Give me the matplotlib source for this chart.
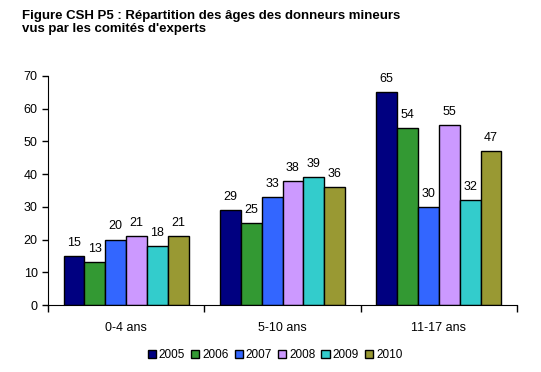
import matplotlib
matplotlib.use("Agg")
import matplotlib.pyplot as plt
import numpy as np

plt.rcParams["font.family"] = ["Liberation Sans", "DejaVu Sans"]

categories = ["0-4 ans", "5-10 ans", "11-17 ans"]
years = ["2005", "2006", "2007", "2008", "2009", "2010"]
values = {
    "2005": [15, 29, 65],
    "2006": [13, 25, 54],
    "2007": [20, 33, 30],
    "2008": [21, 38, 55],
    "2009": [18, 39, 32],
    "2010": [21, 36, 47],
}
colors = ["#000080", "#339933", "#3366FF", "#CC99FF", "#33CCCC", "#999933"]

fig = plt.figure(figsize=(5.41, 3.72), dpi=100)
ax = fig.add_axes([48 / 541, 67 / 372, 469 / 541, 229 / 372])

x = np.arange(len(categories))
w = 0.8 / len(years)
for i, (yr, col) in enumerate(zip(years, colors)):
    pos = x - 0.4 + w * (i + 0.5)
    bars = ax.bar(pos, values[yr], width=w, color=col, edgecolor="black",
                  linewidth=1.0, label=yr)
    for b, v in zip(bars, values[yr]):
        ax.text(b.get_x() + b.get_width() / 2, v + 4, str(v),
                ha="center", va="center", fontsize=9)

ax.set_xlim(-0.5, 2.5)
ax.set_ylim(0, 70)
ax.set_yticks(range(0, 71, 10))
ax.set_xticks([-0.5, 0.5, 1.5, 2.5])
ax.set_xticklabels([])
ax.set_xticks(x, minor=True)
ax.set_xticklabels(categories, minor=True)
ax.tick_params(axis="x", which="minor", length=0, pad=12, labelsize=9)
ax.tick_params(axis="x", which="major", length=5, width=1)
ax.tick_params(axis="y", length=4, width=1, labelsize=9)
ax.spines["top"].set_visible(False)
ax.spines["right"].set_visible(False)

fig.text(22 / 541, 1 - 10 / 372,
         "Figure CSH P5 : Répartition des âges des donneurs mineurs\nvus par les comités d'experts",
         ha="left", va="top", fontsize=9.5, fontweight="bold", linespacing=1.15)

fig.legend(loc="center", bbox_to_anchor=(275 / 541, 1 - 355 / 372), ncol=6,
           frameon=False, fontsize=8.5, handlelength=0.7, handleheight=0.7,
           handletextpad=0.25, columnspacing=0.5)

fig.savefig("out.png", dpi=100)
